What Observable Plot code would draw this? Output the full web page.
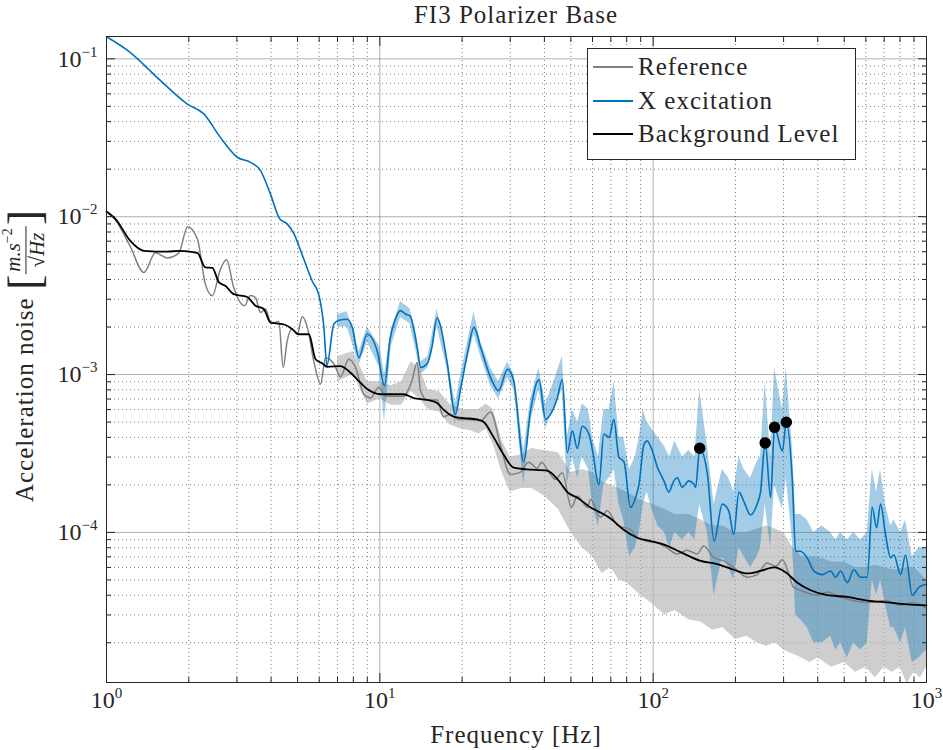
<!DOCTYPE html>
<html><head><meta charset="utf-8">
<script src="https://cdn.jsdelivr.net/npm/d3@7"></script>
<script src="https://cdn.jsdelivr.net/npm/@observablehq/plot@0.6"></script>
<style>
body{margin:0;background:#fff;}
#wrap{position:relative;width:943px;height:750px;font-family:"Liberation Serif","Times New Roman",serif;color:#262626;}
#chart{position:absolute;left:0;top:0;}
.lbl{position:absolute;font-size:25px;letter-spacing:1px;white-space:nowrap;line-height:1;}
#title{left:0;width:1032px;top:2px;text-align:center;}
#xlabel{left:0;width:1032px;top:722px;text-align:center;}
#ylabel{left:25px;top:356px;transform:translate(-50%,-50%) rotate(-90deg);display:flex;align-items:center;}
.frac{display:inline-flex;flex-direction:column;align-items:center;font-size:21px;letter-spacing:0;margin:0 1px;line-height:1.05;}
.frac .num{border-bottom:1px solid #262626;padding:0 2px 1px 2px;}
.frac sup{font-size:14px;}
.br{font-size:46px;font-weight:200;letter-spacing:0;}
#legend{position:absolute;left:587px;top:48px;width:267px;height:110px;border:1px solid #262626;background:#fff;}
.row{position:absolute;left:0;height:30px;display:flex;align-items:center;font-size:25px;letter-spacing:1px;white-space:nowrap;}
.sw{display:inline-block;width:40px;height:0;margin:0 5px 0 5px;}
</style></head><body>
<div id="wrap">
<div id="chart"></div>
<div id="title" class="lbl">FI3 Polarizer Base</div>
<div id="xlabel" class="lbl">Frequency [Hz]</div>
<div id="ylabel" class="lbl"><span>Acceleration noise&nbsp;</span><span class="br">[</span><span class="frac"><span class="num"><i>m.s</i><sup>−2</sup></span><span class="den">√<i>Hz</i></span></span><span class="br">]</span></div>
<div id="legend">
 <div class="row" style="top:3px"><span class="sw" style="border-top:2px solid #808080"></span>Reference</div>
 <div class="row" style="top:37px"><span class="sw" style="border-top:2px solid #0072BD"></span>X excitation</div>
 <div class="row" style="top:70px"><span class="sw" style="border-top:2px solid #000"></span>Background Level</div>
</div>
</div>
<script>
// ---------- data ----------
const excFreq=[1.0,1.22,1.53,1.97,2.27,2.61,3.01,3.36,3.66,3.98,4.3,4.58,4.85,5.13,5.66,5.98,6.24,6.4,6.79,7.08,7.6,7.93,8.38,8.99,9.78,10.4,10.9,11.4,11.9,12.4,12.9,13.7,14.1,14.9,15.5,16.2,16.6,17.6,18.9,19.7,20.9,22.1,23.4,25.4,27.2,29.3,30.9,33.6,35.6,38.2,40.4,42.1,44.6,46.5,48.5,50.6,52.8,55,58.2,60,63.3,66,69,71.8,74.9,78.2,82.6,86.2,88.7,92.5,95,99.2,103.5,109.5,114,119,122.5,127.7,135,141,143,148,158,167,179,189,197,206,215,227,240,247,257,269,278,297,307,323,332,346,366,387,415,446,465,485,513,542,574,607,633,657,679,708,739,760,804,838,887,938,1000];
const excAmp=[0.138,0.110,0.0764,0.0519,0.0448,0.0318,0.0238,0.0221,0.0196,0.0139,0.0097,0.0090,0.0078,0.0061,0.0039,0.0032,0.0020,0.00114,0.00209,0.00221,0.00224,0.00199,0.00128,0.0018,0.00141,0.00085,0.00168,0.00224,0.00254,0.00242,0.00235,0.00148,0.00111,0.00117,0.00148,0.00229,0.00209,0.00122,0.00056,0.00079,0.00135,0.00199,0.00148,0.00096,0.00079,0.00108,0.00091,0.00028,0.00059,0.00093,0.00052,0.00056,0.00071,0.00093,0.00032,0.00044,0.00034,0.00047,0.00042,0.00033,0.0002,0.00042,0.0004,0.00052,0.0003,0.00028,0.000144,0.000166,0.0002,0.00036,0.00038,0.00033,0.00026,0.000212,0.00018,0.000212,0.000222,0.000193,0.000212,0.000202,0.000193,0.00034,0.000233,0.000088,0.000151,0.000137,0.000097,0.00018,0.000156,0.000129,0.000151,0.00018,0.00037,0.000166,0.000463,0.000327,0.000499,0.000212,0.000076,0.000076,0.000069,0.000057,0.000054,0.000057,0.000052,0.000057,0.000048,0.000058,0.000052,0.000052,0.000144,0.000107,0.000151,0.000097,0.000069,0.000072,0.000054,0.000072,0.00004,0.000045,0.000047];

const refFreq=[1.0,1.08,1.22,1.37,1.51,1.67,1.84,1.98,2.15,2.3,2.44,2.61,2.75,2.92,3.2,3.36,3.51,3.66,3.82,4.0,4.27,4.43,4.58,4.78,4.99,5.2,5.45,5.73,6.07,6.33,6.79,7.18,7.7,8.15,8.74,9.25,9.92,10.5,12.2,13.1,13.7,14.1,14.9,16.2,17.1,18.1,19.5,20.9,23.4,25.4,27.6,30,32.6,35,37.7,39,42.1,43.9,46.5,50.2,52.8,57.5,59,64.2,67.9,74,82.6,87.5,95,103.5,112,122.5,133,145,153,167,181,197,221,240,261,281,297,312,326,346,397,433,485,607,708,804,898,1000];
const refAmp=[0.0108,0.0095,0.0065,0.00443,0.0059,0.00547,0.0059,0.00865,0.00723,0.00374,0.00316,0.00464,0.00533,0.00356,0.00273,0.00317,0.00307,0.00247,0.0026,0.00211,0.00217,0.00111,0.00163,0.00194,0.0018,0.00232,0.00194,0.00122,0.00087,0.00128,0.00117,0.00097,0.00125,0.00111,0.00075,0.00071,0.00083,0.00073,0.00073,0.00091,0.00119,0.00079,0.00069,0.00069,0.00054,0.00056,0.00052,0.00052,0.00051,0.00058,0.00036,0.000233,0.00024,0.000278,0.000255,0.000278,0.000233,0.000217,0.000239,0.000144,0.00017,0.000144,0.000162,0.000125,0.000137,0.000111,0.000104,0.0000925,0.000088,0.000086,0.00008,0.000073,0.000077,0.000073,0.000082,0.000069,0.000066,0.00006,0.000052,0.000054,0.000064,0.000061,0.000067,0.000056,0.000045,0.000043,0.00004,0.000042,0.000039,0.000036,0.000037,0.0000345,0.000036,0.000033];

const bgFreq=[1.0,1.08,1.22,1.37,1.67,1.84,2.15,2.3,2.44,2.58,2.72,2.92,3.27,3.51,3.76,3.98,4.52,4.78,5.05,5.5,5.82,6.15,6.42,7.18,7.7,8.27,8.99,10.06,12.2,13.3,14.9,16.2,17.1,18.7,20.3,22.7,24,26.1,28.4,30.9,34.4,40.9,45.2,48.5,52.8,59,64,70,78,87.5,98,109,126,149,172,197,221,247,277,305,337,377,433,513,607,719,851,1000];
const bgAmp=[0.0108,0.00966,0.00705,0.00608,0.0060,0.00608,0.0059,0.00478,0.00474,0.00383,0.00365,0.00323,0.0031,0.00273,0.0026,0.00214,0.00206,0.00194,0.0018,0.0018,0.00125,0.00118,0.00112,0.00113,0.00105,0.00093,0.00081,0.00075,0.00075,0.00071,0.00069,0.00066,0.0006,0.00054,0.00053,0.00052,0.0005,0.0004,0.00031,0.000257,0.000251,0.000246,0.000212,0.00018,0.000166,0.000144,0.000134,0.000122,0.000104,0.0000925,0.000088,0.000084,0.000075,0.000066,0.000063,0.000058,0.000055,0.000057,0.00006,0.000056,0.000048,0.000043,0.00004,0.000039,0.000037,0.000036,0.000035,0.0000345];

// raw (unsmoothed) spectra, drawn as low/high envelopes
const refRawFreq=[7,8,9,10,11,12,13,14,15,16.5,18,20,21.5,23,24.5,26,28,30,33,36,40,45,50,55,60,65,70,75,80,90,100,110,120,135,150,165,180,200,220,240,260,280,300,325,350,375,400,450,500,550,600,650,700,750,800,850,900,950,1000];
const refRawLo=[0.0009,0.001,0.00065,0.0007,0.00064,0.00064,0.00078,0.0007,0.0006,0.00058,0.00048,0.00045,0.00044,0.00042,0.00045,0.00036,0.00024,0.00018,0.00019,0.00019,0.00017,0.00014,0.0001,0.00008,0.00007,0.000055,0.00006,0.00005,0.000048,0.00004,0.000035,0.00003,0.000032,0.000028,0.000027,0.000024,0.000025,0.000021,0.000022,0.00002,0.000019,0.00002,0.000018,0.000017,0.000016,0.000015,0.000016,0.000014,0.000015,0.000013,0.000014,0.000012,0.000014,0.000013,0.000014,0.000011,0.000013,0.000012,0.000014];
const refRawHi=[0.0013,0.0014,0.0009,0.0009,0.00085,0.0009,0.0012,0.0011,0.0008,0.00078,0.00065,0.0006,0.0006,0.0006,0.00065,0.0006,0.00038,0.0003,0.00031,0.00034,0.00033,0.00032,0.00024,0.00025,0.00024,0.00021,0.0002,0.00019,0.00018,0.00016,0.00015,0.00014,0.00013,0.00013,0.00012,0.00011,0.00011,0.0001,0.0001,0.000105,0.00011,0.000105,0.0001,0.00008,0.00007,0.00007,0.00007,0.000065,0.000065,0.00006,0.00006,0.000062,0.00006,0.000058,0.000058,0.00006,0.00006,0.000055,0.00005];

const excRawFreq=[7,7.6,8.4,9,10,10.4,11,11.9,12.9,13.7,14.1,15,16.2,17.6,18.9,20,22.1,23.4,25.4,27.2,29.3,31,33.6,35.6,38.2,40.4,43.3,46.5,48.5,50.6,53,55,58,60,63,66,69,72,75,78,82,86,89,92,95,99,104,110,115,120,128,135,142,148,158,167,179,189,197,206,215,227,240,247,257,269,278,297,307,323,332,346,366,387,415,446,465,485,513,542,574,607,633,657,679,708,739,760,804,838,887,938,1000];
const excRawLo=[0.002,0.002,0.00115,0.0016,0.0011,0.0005,0.0015,0.0023,0.0021,0.0013,0.001,0.0011,0.002,0.0011,0.00048,0.0009,0.0018,0.0013,0.00085,0.0007,0.00095,0.0008,0.0002,0.0005,0.0008,0.00045,0.00062,0.0008,0.0002,0.0003,0.00022,0.0003,0.00025,0.00015,0.00011,0.0002,0.00022,0.00025,0.00015,0.00012,0.00007,0.00008,0.0001,0.00015,0.00018,0.00014,0.00011,0.0001,0.00008,0.0001,0.00009,0.0001,0.00009,0.00015,0.0001,0.00004,0.00007,0.00006,0.00005,0.00008,0.00007,0.00006,0.00007,0.00008,0.00015,0.00008,0.0002,0.00014,0.00022,0.00009,0.00003,0.000028,0.000025,0.00002,0.00002,0.000022,0.000018,0.00002,0.000016,0.00002,0.000018,0.00002,0.00005,0.00004,0.00005,0.000035,0.000025,0.000025,0.00002,0.000025,0.000015,0.000016,0.000018];
const excRawHi=[0.0024,0.0025,0.0014,0.002,0.0015,0.001,0.0019,0.0029,0.0026,0.0017,0.0012,0.0013,0.0026,0.0013,0.00065,0.0011,0.0025,0.0016,0.0011,0.0009,0.0012,0.001,0.00033,0.0007,0.0011,0.00065,0.0009,0.0013,0.0004,0.0006,0.0005,0.00065,0.0006,0.0004,0.0003,0.0006,0.0006,0.0009,0.0004,0.0004,0.00025,0.0003,0.0004,0.0006,0.0005,0.00045,0.0004,0.00035,0.0003,0.00038,0.0003,0.00033,0.0003,0.0008,0.00035,0.00015,0.00025,0.00022,0.00018,0.0003,0.00025,0.00022,0.00028,0.0003,0.0009,0.0003,0.0011,0.0006,0.0011,0.00035,0.00013,0.00013,0.00012,0.0001,0.00011,0.0001,0.00009,0.0001,0.00009,0.0001,0.00009,0.0001,0.00025,0.00018,0.00025,0.00015,0.00011,0.00012,0.0001,0.00012,0.00007,0.00008,0.00008];

const peakFreq=[148,257,278,307];
const peakAmp=[0.000341,0.000369,0.000463,0.000499];

const majorX=[1,10,100,1000];
const minorX=[2,3,4,5,6,7,8,9,20,30,40,50,60,70,80,90,200,300,400,500,600,700,800,900];
const majorY=[1e-4,1e-3,1e-2,1e-1];
const minorY=[2e-5,3e-5,4e-5,5e-5,6e-5,7e-5,8e-5,9e-5,2e-4,3e-4,4e-4,5e-4,6e-4,7e-4,8e-4,9e-4,2e-3,3e-3,4e-3,5e-3,6e-3,7e-3,8e-3,9e-3,2e-2,3e-2,4e-2,5e-2,6e-2,7e-2,8e-2,9e-2];
const yDomain=[1.12e-5,0.1385];

// ---------- tables ----------
const zip=(F,V)=>F.map((f,i)=>({f,v:V[i]}));
const exc=zip(excFreq,excAmp), ref=zip(refFreq,refAmp), bg=zip(bgFreq,bgAmp), peaks=zip(peakFreq,peakAmp);
const refRaw=refRawFreq.map((f,i)=>({f,lo:refRawLo[i],hi:refRawHi[i]}));
const excRaw=excRawFreq.map((f,i)=>({f,lo:excRawLo[i],hi:excRawHi[i]}));

const expo=d=>{const e=Math.round(Math.log10(d));return "10^"+(e<0?"\u2212"+(-e):e);};
const ax="#262626";

const chart=Plot.plot({
  width:943,height:750,marginTop:36,marginBottom:68,marginLeft:106,marginRight:17,
  x:{type:"log",domain:[1,1000]},
  y:{type:"log",domain:yDomain},
  style:{fontFamily:"'Liberation Serif','Times New Roman',serif",fontSize:"24px",color:ax,background:"white",overflow:"visible"},
  marks:[
    Plot.gridX(minorX,{stroke:ax,strokeOpacity:0.6,strokeDasharray:"1,3"}),
    Plot.gridY(minorY,{stroke:ax,strokeOpacity:0.6,strokeDasharray:"1,3"}),
    Plot.gridX(majorX.slice(1,3),{stroke:ax,strokeOpacity:0.35}),
    Plot.gridY(majorY,{stroke:ax,strokeOpacity:0.35}),
    Plot.areaY(refRaw,{x:"f",y1:"lo",y2:"hi",fill:"#b4b4b4",fillOpacity:0.65}),
    Plot.areaY(excRaw,{x:"f",y1:"lo",y2:"hi",fill:"#0072BD",fillOpacity:0.36}),
    Plot.line(ref,{x:"f",y:"v",stroke:"#808080",strokeWidth:1.5,curve:"monotone-x"}),
    Plot.line(exc,{x:"f",y:"v",stroke:"#0072BD",strokeWidth:1.6,curve:"monotone-x"}),
    Plot.line(bg,{x:"f",y:"v",stroke:"#000",strokeWidth:1.8,curve:"monotone-x"}),
    Plot.dot(peaks,{x:"f",y:"v",r:5,fill:"#000",stroke:"#000"}),
    Plot.frame({stroke:ax,strokeWidth:1}),
    Plot.axisX(majorX,{anchor:"bottom",tickSize:0,tickPadding:8,tickFormat:expo,label:null,fontSize:24}),
    Plot.axisY(majorY,{anchor:"left",tickSize:0,tickPadding:9,tickFormat:expo,label:null,fontSize:24}),
    Plot.axisX(majorX,{anchor:"bottom",tickSize:-9,tickFormat:()=>"",label:null,stroke:ax}),
    Plot.axisX(minorX,{anchor:"bottom",tickSize:-5,tickFormat:()=>"",label:null,stroke:ax}),
    Plot.axisX(majorX,{anchor:"top",tickSize:-9,tickFormat:()=>"",label:null,stroke:ax}),
    Plot.axisX(minorX,{anchor:"top",tickSize:-5,tickFormat:()=>"",label:null,stroke:ax}),
    Plot.axisY(majorY,{anchor:"left",tickSize:-9,tickFormat:()=>"",label:null,stroke:ax}),
    Plot.axisY(minorY,{anchor:"left",tickSize:-5,tickFormat:()=>"",label:null,stroke:ax}),
    Plot.axisY(majorY,{anchor:"right",tickSize:-9,tickFormat:()=>"",label:null,stroke:ax}),
    Plot.axisY(minorY,{anchor:"right",tickSize:-5,tickFormat:()=>"",label:null,stroke:ax})
  ]
});
document.getElementById("chart").appendChild(chart);

// superscript exponents on tick labels
const NS="http://www.w3.org/2000/svg";
chart.querySelectorAll("text").forEach(t=>{
  const s=t.textContent;
  if(!s.includes("^"))return;
  const [base,ex]=s.split("^");
  while(t.firstChild)t.removeChild(t.firstChild);
  const a=document.createElementNS(NS,"tspan");a.textContent=base;t.appendChild(a);
  const b=document.createElementNS(NS,"tspan");b.textContent=ex;b.setAttribute("dy","-10");b.setAttribute("font-size","15");t.appendChild(b);
});
</script>
</body></html>
